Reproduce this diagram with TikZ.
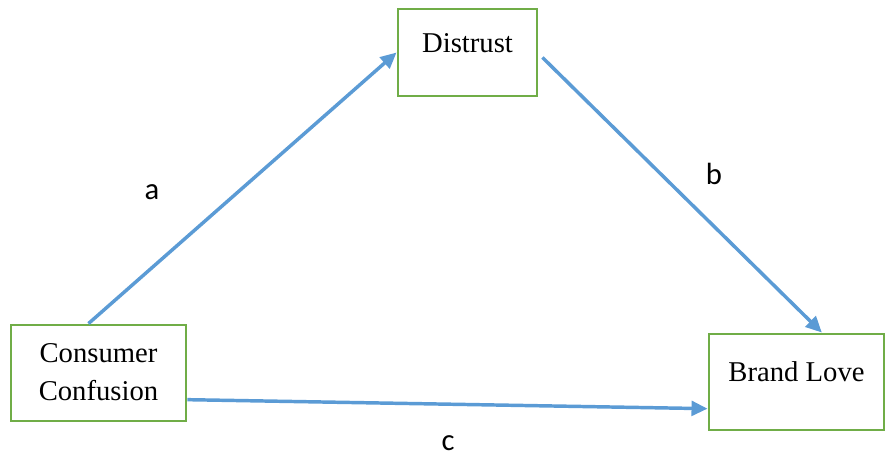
\documentclass[tikz,border=0pt]{standalone}
\usepackage{fontspec}
\setmainfont{Liberation Serif}
\newfontfamily\labelfont{Carlito}
\usepackage{tikz}
\usetikzlibrary{arrows.meta, calc}
\definecolor{boxgreen}{RGB}{112, 173, 71}
\definecolor{arrowblue}{RGB}{91, 155, 213}
\tikzset{
    varbox/.style={rectangle, draw=boxgreen, line width=2.2pt, fill=white, inner sep=0pt, align=center, font=\fontsize{21.5}{28.5}\selectfont},
    pathline/.style={draw=arrowblue, line width=2.6pt, -{Triangle[length=12pt, width=11pt]}},
    coef/.style={font=\labelfont\fontsize{23}{27}\selectfont}
}

\begin{document}
\begin{tikzpicture}[x=0.75pt, y=-0.75pt]
        \useasboundingbox (0,0) rectangle (885,458);

        % Variables
        \node [varbox, minimum width=104.25pt, text height=32.25pt, text depth=33pt] (distrust) at (467.5,52.5) {Distrust};
        \node [varbox, minimum width=131.25pt, text height=56.25pt, text depth=15.75pt] (confusion) at (98.5,373) {Consumer\\Confusion};
        \node [varbox, minimum width=131.25pt, text height=35.25pt, text depth=36.75pt] (love) at (796.5,382) {Brand Love};

        % Paths
        \draw [pathline] ([xshift=-7.5pt]confusion.north) -- (distrust.west);
        \draw [pathline] ([xshift=3pt, yshift=-3.75pt]distrust.east) -- ([xshift=19pt]love.north);
        \draw [pathline] ([yshift=-20pt]confusion.east) -- ([yshift=-20pt]love.west);

        % Coefficients
        \node [coef] (a) at (152,192) {a};
        \node [coef] (b) at (714,174) {b};
        \node [coef] (c) at (448,443) {c};

    \end{tikzpicture}
\end{document}
